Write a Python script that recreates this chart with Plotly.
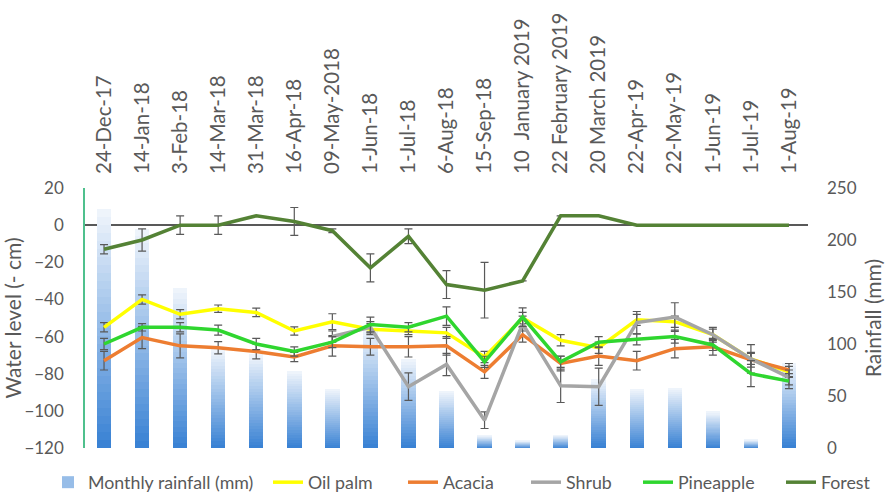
import plotly.graph_objects as go

# Sampling dates (category axis, shown along the top)
dates = ["24-Dec-17", "14-Jan-18", "3-Feb-18", "14-Mar-18", "31-Mar-18", "16-Apr-18",
         "09-May-2018", "1-Jun-18", "1-Jul-18", "6-Aug-18", "15-Sep-18",
         "10  January 2019", "22 February 2019", "20 March 2019", "22-Apr-19",
         "22-May-19", "1-Jun-19", "1-Jul-19", "1-Aug-19"]

# Monthly rainfall (mm), right axis
rainfall = [230, 211, 154, 95, 90, 74, 57, 115, 86, 55, 12, 7, 12.5, 66, 57, 58, 35, 8, 82]

# Water level (-cm) per land use, left axis, with error values
oil_palm = [-55, -40, -48, -45, -47, -57, -52, -56, -57, -58, -71, -50, -62, -66, -51, -52, -59, -72, -79]
oil_palm_err = [2.5, 2.5, 2.5, 2, 2.3, 2.2, 4.3, 3, 2, 3, 3, 3, 3, 3, 3, 3, 3, 3, 3]

acacia = [-73, -60.5, -65, -66, -68, -71, -65, -65.5, -65.5, -65, -79, -59, -74.5, -70.5, -73, -66.5, -65.5, -72.5, -78]
acacia_err = [5, 6, 6.5, 3.3, 4, 2.5, 5.5, 4.5, 5.5, 5, 3.5, 4, 4, 5, 5, 5, 4.5, 4, 3.5]

shrub = [None, None, None, None, None, None, -60, -55, -87, -75, -105, -53, -86.5, -87, -52.5, -49.5, -59, -72, -82]
shrub_err = [0, 0, 0, 0, 0, 0, 3, 3, 7.4, 6, 4.5, 4, 9, 10, 6, 7.7, 4, 7.7, 4]

pineapple = [-64, -55, -55, -56.5, -64, -68, -63, -53.5, -55, -49, -73.6, -49.5, -73.6, -63, -61.5, -60, -64.5, -80, -84]
pineapple_err = [3, 2, 2.5, 2.7, 3, 2.5, 3, 4, 2.5, 5, 3, 5, 3, 3, 3, 3.5, 3, 7, 4]

forest = [-13, -8, 0, 0, 5, 2, -3, -23, -6, -32, -35, -30, 5, 5, 0, 0, 0, 0, 0]
forest_err = [2.5, 6, 5, 5, 0, 7.5, 1, 7.5, 4, 7.5, 15, 0, 0, 0, 0, 0, 0, 0, 0]

TEXT = "#595959"
FONT = "Lato"

fig = go.Figure()

# Rainfall bars: each bar is stacked from thin slices that fade from blue to white
n_slices = 30
bottom = (58, 130, 212)
top = (238, 244, 251)
for i in range(n_slices):
    t = i / (n_slices - 1)
    c = tuple(round(bottom[k] + (top[k] - bottom[k]) * t) for k in range(3))
    fig.add_trace(go.Bar(
        x=dates, y=[v / n_slices for v in rainfall],
        marker=dict(color="rgb(%d,%d,%d)" % c, line=dict(width=0)),
        width=0.38, yaxis="y",
        name="Monthly rainfall (mm)",
        showlegend=(i == n_slices // 2),
        legend="legend", hoverinfo="skip",
    ))

series = [
    ("Oil palm", oil_palm, oil_palm_err, "#FFFF00"),
    ("Acacia", acacia, acacia_err, "#ED7D31"),
    ("Shrub", shrub, shrub_err, "#A5A5A5"),
    ("Pineapple", pineapple, pineapple_err, "#2FD62F"),
    ("Forest", forest, forest_err, "#548235"),
]
for k, (name, vals, err, color) in enumerate(series, start=2):
    fig.add_trace(go.Scatter(
        x=dates, y=vals, name=name, mode="lines", yaxis="y2",
        line=dict(color=color, width=3.5),
        error_y=dict(type="data", array=err, visible=True,
                     color=TEXT, thickness=1.2, width=4),
        legend="legend%d" % k,
    ))

# One small legend box per entry so the row can be spread across the width
legend_x = [48, 268, 403, 526, 638, 781]
legend_boxes = {}
for k, px in enumerate(legend_x, start=1):
    key = "legend" if k == 1 else "legend%d" % k
    legend_boxes[key] = dict(
        orientation="h", xref="container", x=px / 890, xanchor="left",
        yref="container", y=0.027, yanchor="middle",
        font=dict(size=17.8, color=TEXT), bgcolor="rgba(0,0,0,0)",
        itemwidth=30,
    )

fig.update_layout(
    width=890, height=496,
    margin=dict(l=85, r=82, t=188, b=48, autoexpand=False),
    paper_bgcolor="white", plot_bgcolor="white",
    barmode="stack", bargap=0.62,
    font=dict(family=FONT, color=TEXT),
    xaxis=dict(
        type="category", side="top", range=[-0.5, 18.5],
        tickangle=-90, tickfont=dict(size=20.5, color=TEXT),
        showgrid=False, showline=False, zeroline=False, ticks="",
        ticklabelstandoff=13,
    ),
    yaxis=dict(
        side="right", range=[0, 250], tickvals=[0, 50, 100, 150, 200, 250],
        tickfont=dict(size=17, color=TEXT), showgrid=False, zeroline=False,
        showline=False, ticks="", ticklabelstandoff=18,
        title=dict(text="Rainfall (mm)", font=dict(size=21, color=TEXT), standoff=10),
    ),
    yaxis2=dict(
        side="left", overlaying="y", range=[-120, 20],
        tickvals=[-120, -100, -80, -60, -40, -20, 0, 20],
        tickfont=dict(size=17, color=TEXT), showgrid=False,
        zeroline=True, zerolinecolor="#595959", zerolinewidth=1.5,
        showline=True, linecolor="#4FC08D", linewidth=1.5,
        ticks="", ticklabelstandoff=16,
        title=dict(text="Water level (- cm)", font=dict(size=21, color=TEXT), standoff=1),
    ),
    **legend_boxes,
)

fig.write_html("out.html")
